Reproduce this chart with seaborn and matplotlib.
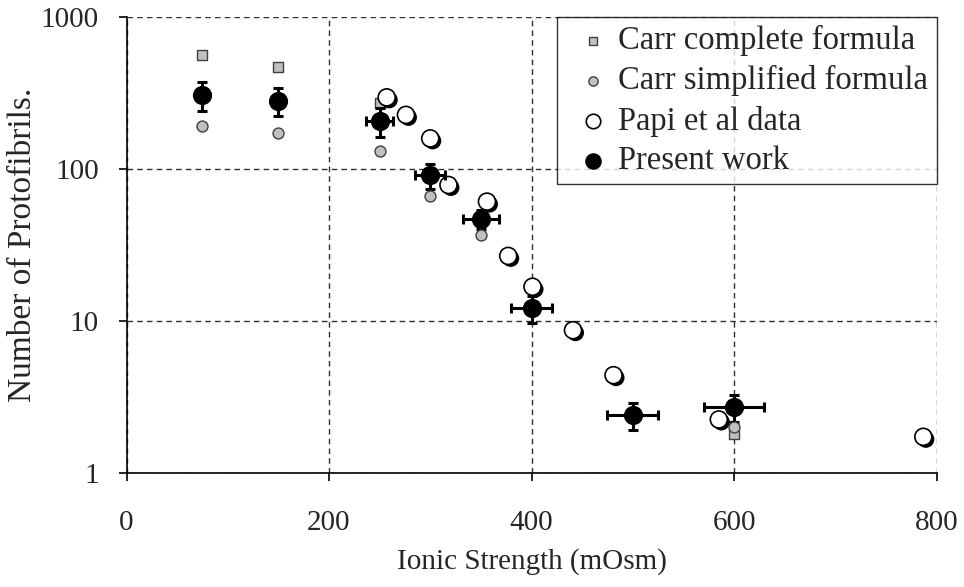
import numpy as np
import pandas as pd
import matplotlib
matplotlib.use("Agg")
import matplotlib.pyplot as plt
import matplotlib.patheffects as pe
from matplotlib.ticker import FixedLocator, FuncFormatter, NullLocator
from matplotlib.legend_handler import HandlerPathCollection
import seaborn as sns

# ---- data ----
carr_complete_x = [75, 150, 250, 300, 350, 400, 600]
carr_complete_y = [562, 471, 272, 88, 46, 12.5, 1.8]

carr_simplified_x = [75, 150, 250, 300, 350, 600]
carr_simplified_y = [192, 172, 131, 66, 37, 2.0]

papi_x = [257, 276, 300, 318, 356, 377, 401, 441, 481, 585, 787]
papi_y = [296, 227, 159, 78.5, 61, 26.8, 16.8, 8.7, 4.4, 2.25, 1.73]

present_x = [75, 150, 250, 300, 350, 400, 500, 600]
present_y = [307, 281, 207, 91, 47, 12.1, 2.4, 2.7]
present_yerr = [65, 58, 44, 17, 7, 2.4, 0.48, 0.54]
present_xerr = [0, 0, 13, 15, 18, 20, 25, 30]

x_ticks = [0, 200, 400, 600, 800]
y_ticks = [1, 10, 100, 1000]

sns.set_style("white")
plt.rcParams["font.family"] = ["Liberation Serif", "DejaVu Serif"]


class RightMarkerHandler(HandlerPathCollection):
    def get_xdata(self, legend, xdescent, ydescent, width, height, fontsize):
        xm = -xdescent + 0.72 * width
        return [xm], [xm]


fig = plt.figure(figsize=(9.64, 5.87), dpi=100)
ax = fig.add_axes([126.5 / 964, 1 - 473 / 587, (936.5 - 126.5) / 964, (473 - 17) / 587])

df_cc = pd.DataFrame({"x": carr_complete_x, "y": carr_complete_y})
df_cs = pd.DataFrame({"x": carr_simplified_x, "y": carr_simplified_y})
df_pa = pd.DataFrame({"x": papi_x, "y": papi_y})
df_pw = pd.DataFrame({"x": present_x, "y": present_y})

sns.scatterplot(data=df_cc, x="x", y="y", ax=ax, marker="s", s=55,
                color="#c0c0c0", edgecolor="#404040", linewidth=1.0, zorder=3,
                label="Carr complete formula")
sns.scatterplot(data=df_pa, x="x", y="y", ax=ax, marker="o", s=150,
                color="white", edgecolor="black", linewidth=1.2, zorder=4,
                label="Papi et al data")
papi_coll = ax.collections[-1]
papi_coll.set_path_effects([
    pe.SimplePatchShadow(offset=(1.8, -1.8), shadow_rgbFace="black", alpha=1.0),
    pe.Normal()])
ax.errorbar(present_x, present_y, yerr=present_yerr, xerr=present_xerr,
            fmt="none", ecolor="black", elinewidth=2.2, capsize=3.5,
            capthick=2.2, zorder=5)
sns.scatterplot(data=df_pw, x="x", y="y", ax=ax, marker="o", s=165,
                color="black", edgecolor="black", linewidth=1.0, zorder=6,
                label="Present work")
sns.scatterplot(data=df_cs, x="x", y="y", ax=ax, marker="o", s=62,
                color="#c0c0c0", edgecolor="#404040", linewidth=1.0, zorder=7,
                label="Carr simplified formula")

ax.set_yscale("log")
ax.set_xlim(0, 800)
ax.set_ylim(1, 1000)
ax.xaxis.set_major_locator(FixedLocator(x_ticks))
ax.yaxis.set_major_locator(FixedLocator(y_ticks))
ax.yaxis.set_minor_locator(NullLocator())
ax.yaxis.set_major_formatter(FuncFormatter(lambda v, p: f"{v:g}"))

ax.grid(True, which="major", linestyle=(0, (4, 3)), color="#303030", linewidth=1.0)
ax.set_axisbelow(True)
for s in ["top", "right"]:
    ax.spines[s].set_visible(False)
for s in ["left", "bottom"]:
    ax.spines[s].set_color("black")
    ax.spines[s].set_linewidth(1.2)
    ax.spines[s].set_zorder(10)

ax.tick_params(axis="both", which="major", direction="out", length=6, width=1.2,
               color="black", labelsize=21, bottom=True, left=True)
ax.tick_params(axis="x", pad=21)
ax.tick_params(axis="y", pad=14)
ax.set_xlabel("Ionic Strength (mOsm)", fontsize=21, labelpad=8)
ax.set_ylabel("Number of Protofibrils.", fontsize=24, labelpad=2)

# legend
h, l = ax.get_legend_handles_labels()
order = ["Carr complete formula", "Carr simplified formula", "Papi et al data", "Present work"]
hd = dict(zip(l, h))
handles = [hd[k] for k in order]
leg = ax.legend(handles, order, loc="upper right",
                bbox_to_anchor=(1.0, 1.0), borderaxespad=0, fontsize=23.5,
                frameon=True, fancybox=False, edgecolor="black",
                handletextpad=0.43, labelspacing=0.28, borderpad=0.25,
                handlelength=1.2, markerscale=0.85,
                handler_map={hh: RightMarkerHandler() for hh in handles})
leg.get_frame().set_linewidth(1.0)
leg.set_zorder(20)
for hnd in leg.legend_handles:
    hnd.set_path_effects([])

fig.savefig("out.png", dpi=100, facecolor="white")
